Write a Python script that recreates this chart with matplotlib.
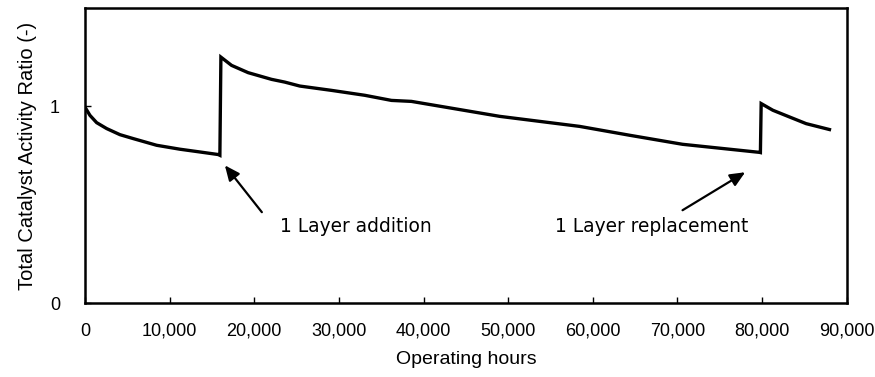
import matplotlib
matplotlib.use("Agg")
import matplotlib.pyplot as plt

# Data
hours = [0, 590, 1380, 2560, 4130, 5700, 8470, 11220, 13580, 15740, 15940,
         16060, 17320, 19280, 22040, 23610, 25380, 29130, 33060, 36210, 38570,
         49000, 58440, 64340, 70600, 79700, 79800,
         79890, 81270, 83230, 85200, 87960]
ratio = [0.996, 0.954, 0.917, 0.887, 0.856, 0.836, 0.802, 0.782, 0.768, 0.755, 0.751,
         1.25, 1.208, 1.171, 1.137, 1.123, 1.103, 1.081, 1.056, 1.03, 1.025,
         0.949, 0.898, 0.853, 0.807, 0.766, 0.765,
         1.014, 0.98, 0.946, 0.912, 0.882]

xticks = [0, 10000, 20000, 30000, 40000, 50000, 60000, 70000, 80000, 90000]
xticklabels = ["0", "10,000", "20,000", "30,000", "40,000", "50,000",
               "60,000", "70,000", "80,000", "90,000"]
yticks = [0, 1]
yticklabels = ["0", "1"]

ann_text = ["1 Layer addition", "1 Layer replacement"]
ann_tip = [(16530, 0.70), (78000, 0.665)]
ann_tail = [(20900, 0.462), (70600, 0.472)]
ann_textpos = [(23000, 0.39), (55500, 0.39)]

plt.rcParams['font.family'] = ['Liberation Sans', 'DejaVu Sans']

fig = plt.figure(figsize=(8.75, 3.77), dpi=100)
ax = fig.add_axes([0.0971, 0.196, 0.8706, 0.783])
ax.plot(hours, ratio, color='black', lw=2.4, solid_joinstyle='miter')
ax.set_xlim(0, 90000)
ax.set_ylim(0, 1.5)
ax.set_xticks(xticks)
ax.set_xticklabels(xticklabels)
ax.set_yticks(yticks)
ax.set_yticklabels(yticklabels)
ax.tick_params(axis='both', direction='in', length=4, width=1, labelsize=13)
ax.tick_params(axis='x', pad=14)
ax.tick_params(axis='y', pad=18)
for s in ax.spines.values():
    s.set_linewidth(1.8)
ax.set_xlabel("Operating hours", fontsize=14, labelpad=8)
ax.set_ylabel("Total Catalyst Activity Ratio (-)", fontsize=14.5, labelpad=9)

for t, tip, tail, tp in zip(ann_text, ann_tip, ann_tail, ann_textpos):
    ax.annotate("", xy=tip, xytext=tail,
                arrowprops=dict(arrowstyle="-|>,head_length=0.9,head_width=0.4",
                                color='black', lw=1.6, shrinkA=0, shrinkB=0))
    ax.text(tp[0], tp[1], t, fontsize=13.4, ha='left', va='center',
            family=['DejaVu Sans'])

fig.savefig("out.png", dpi=100)
